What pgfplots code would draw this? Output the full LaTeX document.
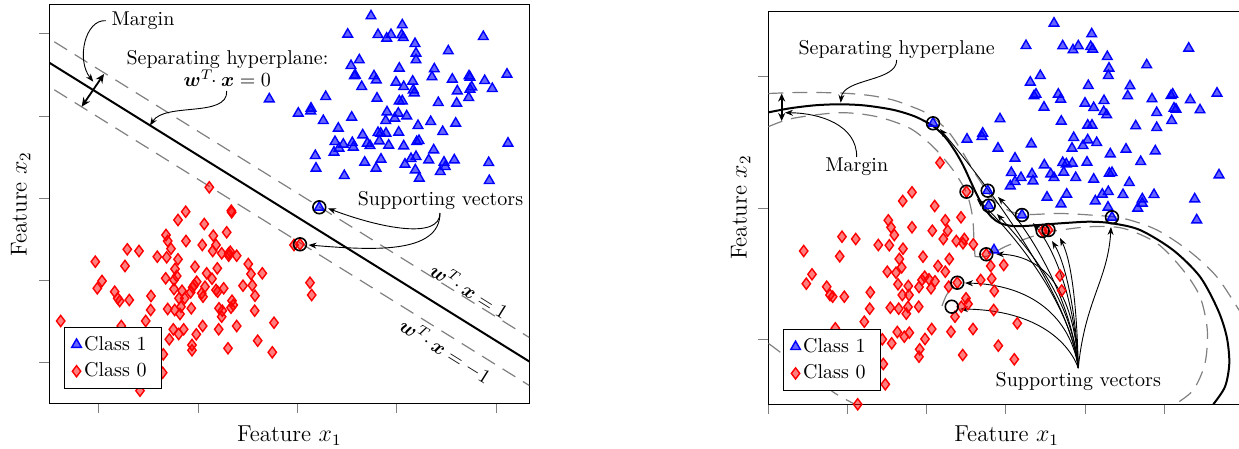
\documentclass[border=0pt]{standalone}
\usepackage{amsmath}
\usepackage{bm}
\usepackage{pgfplots}
\pgfplotsset{compat=1.18}
\usetikzlibrary{arrows.meta}

\tikzset{arr/.style={-{Stealth[length=4pt,width=3pt]}, line width=0.45pt, black}}
\pgfplotsset{
  svmaxis/.style={scale only axis, anchor=north west, tick align=outside,
    major tick length=5pt, xtick pos=left, ytick pos=left,
    xticklabels={}, yticklabels={}, clip=true,
    label style={font=\fontsize{11.5}{13}\selectfont},
    legend cell align=left,
    legend style={draw=black, fill=white, inner xsep=3.5pt, inner ysep=3pt,
      row sep=2pt, nodes={inner sep=1.4pt}, font=\normalsize}},
  class1/.style={only marks, mark=triangle*, mark size=2.8pt,
    mark options={draw=blue, fill=blue, fill opacity=0.6, line width=0.7pt},
    legend image code/.code={\draw[mark repeat=1,##1] plot coordinates {(0pt,0pt)};}},
  class0/.style={only marks, mark=diamond*, mark size=2.8pt,
    mark options={draw=red, fill=red, fill opacity=0.5, line width=0.7pt},
    legend image code/.code={\draw[mark repeat=1,##1] plot coordinates {(0pt,0pt)};}},
  svc/.style={only marks, mark=o, mark size=3.2pt, black,
    mark options={draw=black, line width=0.8pt}, forget plot},
  hyp/.style={black, line width=1pt, forget plot},
  marg/.style={gray, line width=0.6pt, dash pattern=on 7.5pt off 4.5pt, forget plot},
}

\begin{document}
\begin{tikzpicture}
\useasboundingbox (0,0) rectangle (619.5pt,-224.5pt);

% ---------------- LEFT: linear SVM ----------------
\begin{axis}[svmaxis, at={(24.65pt,-2.35pt)}, width=240pt, height=199.3pt,
  xmin=49.3, xmax=529.3, ymin=-403.3, ymax=-4.7,
  xtick={98.7,198,297.3,396.5,495.7},
  ytick={-362.3,-280.3,-198,-115.7,-33.3},
  xlabel={Feature $x_1$}, ylabel={Feature $x_2$},
  xlabel style={at={(axis description cs:0.5,-0.0963)}, anchor=base},
  ylabel style={at={(axis description cs:-0.0471,0.5)}, anchor=base},
  legend style={at={(axis description cs:0.03125,0.192)}, anchor=north west}]

\addplot[hyp] coordinates {(49.3,-62.7) (529.3,-361.5)};
\addplot[marg] coordinates {(54.3,-41.8) (529.3,-337.5)};
\addplot[marg] coordinates {(54.3,-89.8) (529.3,-385.5)};

\addplot[class1] table {
x y
371 -16
402.3 -25
347.7 -34.3
378 -34.7
386.7 -38.3
391 -34.7
401.7 -35
403.3 -37.7
483.3 -36.7
415 -43.7
416 -53.3
416 -60
448.3 -51
359.3 -60
351 -65.7
399.3 -68.3
434.3 -69
354.3 -76
355.3 -75.3
374 -76
376.3 -80
432 -77
452.3 -79.3
469 -76
470 -77.3
484.7 -80.7
507 -74.3
396 -82.3
403.7 -86.7
412.7 -81.3
413.3 -90
414.3 -93
361.7 -86.7
457.3 -91
471.7 -87
470 -89.3
492.3 -88.7
325.7 -96.7
377 -98.3
399.3 -101
402.3 -101
438.3 -102.7
456.7 -103.3
468.7 -97.7
298.3 -113.3
311 -108.3
310.7 -111
323.3 -120.7
351.7 -117.3
387 -112
398.3 -113.3
406.7 -116
385.7 -120.7
394.7 -118.3
338.3 -128.3
430.7 -121.7
418 -125.7
455.7 -123.3
362.7 -135
378 -132.7
380.7 -133.3
386 -133.3
398.7 -132.3
442.7 -131.7
335 -141.7
343.3 -144.3
352.3 -142.7
367.3 -143.3
370 -145.7
379.3 -141
388.7 -145.3
403.7 -146
416.7 -141.7
419 -140.7
334 -152.3
339 -148.3
353.3 -147.3
315.3 -155.7
433.7 -150
508 -143.3
316 -168.3
364.7 -162.3
381 -159.3
376 -168.3
405 -164.3
411 -158.7
416 -156.7
428.7 -160
444 -162.3
445.3 -166.7
454.3 -160
488.7 -162.7
415.3 -170
440.3 -171.7
344.3 -175.7
419.3 -178.3
489.3 -180.7
269.3 -99
319.3 -207.3
};
\addlegendentry{Class 1\hspace*{2.5pt}}

\addplot[class0] table {
x y
209.3 -187.3
185.7 -211.7
231.3 -210.7
231.7 -212.3
178 -220
204.3 -224
226.7 -232.3
166 -235
213.3 -235.7
167.7 -241
186 -241
171 -248.7
202.3 -245
216 -245
212.7 -251
127.3 -249.3
139 -251
157.3 -256.7
166.7 -257.3
221.7 -253.3
228.7 -253.3
230.3 -251.7
236.7 -255.7
228.7 -255.7
95.3 -261.7
125 -266
178 -259.3
195 -266.7
175 -269
217.3 -268.3
248.3 -264
176.7 -276
206.7 -273.3
212 -278.7
251 -274
262.3 -273.3
102 -281
165.7 -278.3
174 -280
196.7 -281.7
194.3 -285
192.7 -287.3
205 -286.7
243 -285.7
252.3 -285.3
97.3 -288.3
114.7 -291.7
174 -289
182 -290.7
190.7 -292.3
201.7 -293.3
216 -290
217.7 -291.7
223.7 -288.3
117.7 -298.3
119.7 -301
129.3 -300
151 -296
179 -298.3
184.7 -298.3
203 -296.7
255 -295.7
232 -300.7
167.7 -309
174.7 -310
181 -306.7
180 -314
191.3 -308.3
219 -308.3
222.3 -310.7
231 -307.7
233.3 -305
254.7 -310.7
150.7 -310
221.7 -316.7
145.7 -321
60.7 -321
121.3 -326
173.3 -329.3
183.7 -329.3
202.7 -326
218.7 -329.3
236.7 -326
274 -322.7
169.3 -339.3
178.7 -334
196.3 -334.3
192 -345
192 -350.3
228 -348.3
257.7 -340.7
272.3 -352.3
163.3 -354.3
162.7 -372.7
140 -390.7
310 -282.7
311.7 -295
294 -245
300 -244.3
};
\addlegendentry{Class 0\hspace*{2.5pt}}

\addplot[svc] coordinates {(319.3,-207.3) (300,-244.3)};

% annotations
\draw[{Stealth[length=4.5pt,width=4pt]}-{Stealth[length=4.5pt,width=4pt]}, line width=0.9pt]
  (81.7,-106.7) -- (104,-74);
\node[anchor=base] at (143,-26) {Margin};
\draw[arr] (106,-20.7) .. controls (85,-19) and (76,-60) .. (93.3,-81.7);
\node[anchor=base] at (227.5,-64) {Separating hyperplane:};
\node[anchor=base] at (227.3,-86.7) {$\bm{w}^{T}\!\!\cdot\bm{x}=0$};
\draw[arr] (226.7,-91) .. controls (228,-118) and (165,-102) .. (150,-125.5);
\node[anchor=base] at (440.5,-205) {Supporting vectors};
\draw[arr] (440,-213) .. controls (440,-240) and (380,-228) .. (328,-208.3);
\draw[arr] (440,-213) .. controls (440,-255) and (370,-250) .. (308.5,-245);
\node[rotate=-31.9] at (470,-290) {$\bm{w}^{T}\!\!\cdot\bm{x}=1$};
\node[rotate=-31.9] at (445.7,-350.7) {$\bm{w}^{T}\!\!\cdot\bm{x}=-1$};
\end{axis}

% ---------------- RIGHT: kernel SVM ----------------
\begin{axis}[svmaxis, at={(384.15pt,-5.5pt)}, width=238.35pt, height=196.65pt,
  xmin=768.3, xmax=1245, ymin=-404.3, ymax=-11,
  xtick={768.3,847.4,926.5,1005.6,1084.7,1163.8},
  ytick={-339,-207.7,-76.5},
  xlabel={Feature $x_1$}, ylabel={Feature $x_2$},
  xlabel style={at={(axis description cs:0.5,-0.0951)}, anchor=base},
  ylabel style={at={(axis description cs:-0.0453,0.5)}, anchor=base},
  legend style={at={(axis description cs:0.0315,0.1915)}, anchor=north west}]

% separating curve
\addplot[hyp, smooth, tension=0.5] coordinates {(768.3,-112.4) (790,-108.3) (815,-105.3) (840,-104.3) (865,-105.5) (893,-109.8) (915,-116.5) (933,-126) (945,-137) (955,-151) (963,-165) (970,-180) (977,-195) (984,-207.5) (992,-217.5) (1000,-223) (1012,-226) (1025,-226) (1045,-224.5) (1065,-223) (1090,-221.7) (1112,-223.3) (1140,-230) (1173,-250) (1200,-276.7) (1218,-310) (1226.7,-336.7) (1229.3,-363.3) (1225,-386.7) (1213.3,-404.3)};
% outer margin
\addplot[marg, smooth, tension=0.5] coordinates {(768.3,-93.5) (800,-92.5) (840,-93) (870,-95.5) (893,-100) (910,-106) (927,-113.5) (947,-130) (963,-153) (977,-176.5) (993,-199) (1005,-208.5) (1015,-213) (1030,-214.5) (1060,-213.5) (1090,-215) (1123,-218.3) (1157,-230) (1190,-251.7) (1216.7,-276.7) (1239,-310) (1245,-320)};
% inner margin
\addplot[marg, smooth, tension=0.5] coordinates {(768.3,-126.7) (793,-118.3) (840,-112.7) (877,-116.7) (910,-128.3) (933,-146.7) (953,-170) (966.7,-193.3) (972.5,-216.7) (974,-240) (975,-256.5)};
\addplot[marg, smooth, tension=0.5] coordinates {(975,-256.5) (988,-256) (1005,-246.7) (1031.7,-236.7) (1050,-231.7) (1090,-226.7) (1123,-228.3) (1157,-243.3) (1183,-270) (1200,-296.7) (1207.3,-330) (1205,-363.3) (1193.3,-390) (1175,-404.3)};
\addplot[marg, smooth] coordinates {(768.3,-343.3) (781.7,-353.3) (800,-367) (818,-380) (835,-393.3) (855,-404.3)};
\addplot[marg, smooth] coordinates {(942,-306) (946,-296) (953,-285)};

\addplot[class1] table {
x y
1054 -23.3
1091.7 -34
1026 -45.7
1062.7 -46
1073 -50
1078.3 -46
1090.7 -46.7
1092.7 -49.3
1188.7 -48.3
1107.3 -56.7
1109 -68.3
1108.3 -75.7
1146.7 -65
1040.3 -75.7
1030.3 -82.3
1088.3 -85.7
1130 -86
1034 -96
1036 -94.3
1058.3 -94.3
1060.7 -99.3
1085 -103.3
1104 -100.7
1127.7 -96
1152 -99
1171 -95.7
1172.7 -94.3
1190.3 -100
1217 -93.3
1093.7 -107.7
1103.7 -111.7
1106.7 -115
1044 -107.3
1156.7 -112.7
1174 -108.3
1176 -109.3
1200 -110
1000 -119
1061.3 -121.3
1087.7 -125.3
1092 -125.3
1135.7 -126
1156.7 -127.7
1171.7 -120.7
967 -139.3
982.7 -133.3
982 -136.7
998 -148.3
1031.3 -144
1073.7 -137.7
1087.7 -140
1096.7 -142.7
1072 -148.3
1083 -145.7
1126 -149.3
1155.3 -151
1015 -158.3
1110.3 -154
1140.7 -161.7
1044.3 -165
1062.7 -162.7
1066.3 -164
1072.3 -163.3
1087 -162.3
1011.3 -172.7
1015 -181.7
1010.3 -186
1021 -177.7
1032 -174
1033 -181
1050.7 -174
1054 -177.7
1063.7 -172.3
1075.7 -177.7
1093.7 -179.3
1109.3 -173.3
1112 -172.7
1129.3 -182.7
1219 -175
1047 -197.3
1066.7 -194.3
1061 -204
1095.3 -201
1102.3 -194.3
1108.3 -191.7
1123 -194.7
1142.3 -199
1142.3 -203.3
1137.7 -208.3
1154 -194.7
1194.7 -199
1196.7 -220
1108 -207.3
994 -250
933 -123.3
987.7 -190.7
988.7 -205.7
1022 -215
1112 -217.3
};
\addlegendentry{Class 1\hspace*{2.5pt}}

\addplot[class0] table {
x y
940 -162.7
912 -192.3
902.7 -201
934.7 -206
961 -217.3
888.3 -220.3
945.3 -220.3
891 -227.3
912 -227.3
932.3 -230.7
947.7 -230.7
894.3 -235
842 -236.7
855.7 -239
878.3 -245
889.3 -245.3
903 -248.7
943.3 -239
956.3 -241
964.3 -239
963 -243.3
973.3 -244.3
803.7 -251
839.7 -256.3
923 -256.7
949.3 -259
899.3 -259
938 -266
901.7 -267.3
887.3 -271.7
896 -272.7
945.3 -271.7
990.7 -266
1003.7 -265
812 -274.3
806.3 -283.7
826.7 -286.7
830 -295
832.7 -296.7
844.3 -296.7
870.3 -292.3
898 -284.3
908.3 -286
919 -287
922 -280
924.7 -276.7
929 -279.3
935 -281.3
931 -288.3
902.3 -295
909 -295
948.7 -286.7
980.7 -280
991.7 -278.7
994.3 -291
869.7 -308.7
890.3 -307.7
898.7 -308.7
906.3 -313.7
908 -307
918.7 -306.7
966 -298.3
968 -304
961.3 -306.7
955 -316.7
993.7 -310
1017.3 -323.3
864.3 -321.7
835.3 -328.3
882.3 -339.3
891.7 -343.3
897.3 -332
904.3 -336.7
909.3 -332.7
925 -339
931.7 -329
951 -331.7
973 -329
919.7 -349.3
919 -356.7
962.7 -355
998.3 -345.7
1014.3 -359.3
883.3 -364
885.3 -384.3
857.7 -404.3
1060 -275.5
1061.7 -290.5
966.5 -191.7
986.3 -254.3
957.3 -282.7
1042.7 -231
1048.5 -230
};
\addlegendentry{Class 0\hspace*{2.5pt}}

\addplot[svc] coordinates {(933,-123.3) (966.5,-191.7) (987.7,-190.7) (988.7,-205.7) (1022,-215) (1042.7,-231) (1048.5,-230) (1112,-217.3) (986.3,-254.3) (957.3,-282.7) (951.7,-306.7)};

% annotations
\draw[{Stealth[length=4pt,width=3.5pt]}-{Stealth[length=4pt,width=3.5pt]}, line width=0.9pt]
  (781.7,-93.5) -- (781.7,-121);
\node[anchor=base] at (856.7,-171.7) {Margin};
\draw[arr] (856.7,-157) .. controls (857,-125) and (820,-113) .. (785,-112.7);
\node[anchor=base] at (896.7,-55) {Separating hyperplane};
\draw[arr] (896.7,-60) .. controls (897,-82) and (843,-78) .. (840.7,-102.7);
\node[anchor=base] at (1078.3,-386.7) {Supporting vectors};
\draw[arr] (1078.3,-368) .. controls (1070,-300) and (1000,-200) .. (940,-129);
\draw[arr] (1078.3,-368) .. controls (1070,-300) and (1010,-230) .. (977,-199);
\draw[arr] (1078.3,-368) .. controls (1072,-300) and (1030,-230) .. (998,-197);
\draw[arr] (1078.3,-368) .. controls (1072,-300) and (1030,-250) .. (997,-214);
\draw[arr] (1078.3,-368) .. controls (1075,-300) and (1055,-250) .. (1033,-223);
\draw[arr] (1078.3,-368) .. controls (1076,-310) and (1065,-262) .. (1052,-241);
\draw[arr] (1078.3,-368) .. controls (1077,-310) and (1072,-262) .. (1060,-238);
\draw[arr] (1078.3,-368) .. controls (1085,-300) and (1108,-280) .. (1111,-227);
\draw[arr] (1078.3,-368) .. controls (1075,-300) and (1050,-256) .. (996,-254);
\draw[arr] (1078.3,-368) .. controls (1072,-325) and (1040,-285) .. (965,-283);
\draw[arr] (1078.3,-368) .. controls (1070,-345) and (1040,-310) .. (960,-309);
\end{axis}
\end{tikzpicture}
\end{document}
